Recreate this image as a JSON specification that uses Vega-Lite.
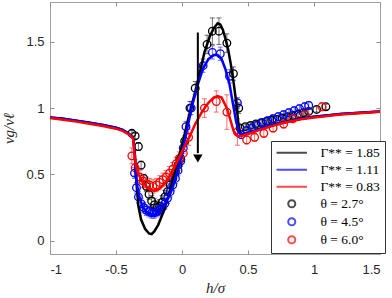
{
  "$schema": "https://vega.github.io/schema/vega-lite/v6.json",
  "width": 330,
  "height": 252,
  "autosize": {"type": "none"},
  "padding": {"left": 50, "top": 2, "right": 12, "bottom": 44},
  "background": "white",
  "config": {
    "view": {"stroke": "#a0a0a0", "strokeWidth": 1},
    "axis": {
      "grid": false,
      "domain": false,
      "tickColor": "#909090",
      "tickSize": -4,
      "labelFont": "Liberation Sans",
      "labelFontSize": 13,
      "labelColor": "#262626",
      "titleFont": "Liberation Serif",
      "titleFontStyle": "italic",
      "titleFontWeight": "normal",
      "titleFontSize": 15,
      "titleColor": "#262626"
    },
    "legend": {
      "labelFont": "Liberation Serif",
      "labelFontSize": 13.5,
      "labelColor": "#000000",
      "symbolStrokeWidth": 2,
      "symbolSize": 50,
      "padding": 5,
      "strokeColor": "#333333",
      "fillColor": "white",
      "symbolOffset": 9,
      "labelOffset": 22,
      "rowPadding": 2
    }
  },
  "datasets": {
    "lines": [
      {"s": "Γ** = 1.85", "x": -1, "y": 0.93}, {"s": "Γ** = 1.85", "x": -0.9, "y": 0.92}, {"s": "Γ** = 1.85", "x": -0.8, "y": 0.905}, {"s": "Γ** = 1.85", "x": -0.7, "y": 0.89}, {"s": "Γ** = 1.85", "x": -0.6, "y": 0.872}, {"s": "Γ** = 1.85", "x": -0.5, "y": 0.852}, {"s": "Γ** = 1.85", "x": -0.45, "y": 0.835}, {"s": "Γ** = 1.85", "x": -0.4, "y": 0.805}, {"s": "Γ** = 1.85", "x": -0.37, "y": 0.775}, {"s": "Γ** = 1.85", "x": -0.36, "y": 0.7}, {"s": "Γ** = 1.85", "x": -0.35, "y": 0.52}, {"s": "Γ** = 1.85", "x": -0.34, "y": 0.37}, {"s": "Γ** = 1.85", "x": -0.33, "y": 0.26}, {"s": "Γ** = 1.85", "x": -0.31, "y": 0.16}, {"s": "Γ** = 1.85", "x": -0.28, "y": 0.09}, {"s": "Γ** = 1.85", "x": -0.25, "y": 0.055}, {"s": "Γ** = 1.85", "x": -0.23, "y": 0.05}, {"s": "Γ** = 1.85", "x": -0.21, "y": 0.07}, {"s": "Γ** = 1.85", "x": -0.18, "y": 0.12}, {"s": "Γ** = 1.85", "x": -0.14, "y": 0.22}, {"s": "Γ** = 1.85", "x": -0.1, "y": 0.35}, {"s": "Γ** = 1.85", "x": -0.05, "y": 0.53}, {"s": "Γ** = 1.85", "x": 0.0, "y": 0.72}, {"s": "Γ** = 1.85", "x": 0.05, "y": 0.93}, {"s": "Γ** = 1.85", "x": 0.11, "y": 1.16}, {"s": "Γ** = 1.85", "x": 0.17, "y": 1.42}, {"s": "Γ** = 1.85", "x": 0.21, "y": 1.54}, {"s": "Γ** = 1.85", "x": 0.24, "y": 1.6}, {"s": "Γ** = 1.85", "x": 0.27, "y": 1.64}, {"s": "Γ** = 1.85", "x": 0.29, "y": 1.63}, {"s": "Γ** = 1.85", "x": 0.31, "y": 1.59}, {"s": "Γ** = 1.85", "x": 0.33, "y": 1.52}, {"s": "Γ** = 1.85", "x": 0.35, "y": 1.44}, {"s": "Γ** = 1.85", "x": 0.37, "y": 1.33}, {"s": "Γ** = 1.85", "x": 0.39, "y": 1.2}, {"s": "Γ** = 1.85", "x": 0.41, "y": 1.05}, {"s": "Γ** = 1.85", "x": 0.42, "y": 0.95}, {"s": "Γ** = 1.85", "x": 0.43, "y": 0.86}, {"s": "Γ** = 1.85", "x": 0.44, "y": 0.81}, {"s": "Γ** = 1.85", "x": 0.46, "y": 0.8}, {"s": "Γ** = 1.85", "x": 0.5, "y": 0.815}, {"s": "Γ** = 1.85", "x": 0.6, "y": 0.845}, {"s": "Γ** = 1.85", "x": 0.7, "y": 0.875}, {"s": "Γ** = 1.85", "x": 0.8, "y": 0.9}, {"s": "Γ** = 1.85", "x": 0.9, "y": 0.92}, {"s": "Γ** = 1.85", "x": 1.0, "y": 0.935}, {"s": "Γ** = 1.85", "x": 1.1, "y": 0.945}, {"s": "Γ** = 1.85", "x": 1.2, "y": 0.955}, {"s": "Γ** = 1.85", "x": 1.35, "y": 0.965}, {"s": "Γ** = 1.85", "x": 1.5, "y": 0.975},
      {"s": "Γ** = 1.11", "x": -1, "y": 0.93}, {"s": "Γ** = 1.11", "x": -0.9, "y": 0.92}, {"s": "Γ** = 1.11", "x": -0.8, "y": 0.905}, {"s": "Γ** = 1.11", "x": -0.7, "y": 0.89}, {"s": "Γ** = 1.11", "x": -0.6, "y": 0.872}, {"s": "Γ** = 1.11", "x": -0.5, "y": 0.852}, {"s": "Γ** = 1.11", "x": -0.45, "y": 0.835}, {"s": "Γ** = 1.11", "x": -0.4, "y": 0.805}, {"s": "Γ** = 1.11", "x": -0.37, "y": 0.775}, {"s": "Γ** = 1.11", "x": -0.36, "y": 0.68}, {"s": "Γ** = 1.11", "x": -0.35, "y": 0.52}, {"s": "Γ** = 1.11", "x": -0.34, "y": 0.42}, {"s": "Γ** = 1.11", "x": -0.32, "y": 0.32}, {"s": "Γ** = 1.11", "x": -0.3, "y": 0.26}, {"s": "Γ** = 1.11", "x": -0.27, "y": 0.22}, {"s": "Γ** = 1.11", "x": -0.24, "y": 0.2}, {"s": "Γ** = 1.11", "x": -0.21, "y": 0.195}, {"s": "Γ** = 1.11", "x": -0.18, "y": 0.21}, {"s": "Γ** = 1.11", "x": -0.15, "y": 0.24}, {"s": "Γ** = 1.11", "x": -0.12, "y": 0.29}, {"s": "Γ** = 1.11", "x": -0.08, "y": 0.38}, {"s": "Γ** = 1.11", "x": -0.04, "y": 0.5}, {"s": "Γ** = 1.11", "x": 0.0, "y": 0.65}, {"s": "Γ** = 1.11", "x": 0.04, "y": 0.85}, {"s": "Γ** = 1.11", "x": 0.08, "y": 1.03}, {"s": "Γ** = 1.11", "x": 0.12, "y": 1.18}, {"s": "Γ** = 1.11", "x": 0.16, "y": 1.3}, {"s": "Γ** = 1.11", "x": 0.2, "y": 1.37}, {"s": "Γ** = 1.11", "x": 0.24, "y": 1.4}, {"s": "Γ** = 1.11", "x": 0.27, "y": 1.4}, {"s": "Γ** = 1.11", "x": 0.3, "y": 1.37}, {"s": "Γ** = 1.11", "x": 0.33, "y": 1.29}, {"s": "Γ** = 1.11", "x": 0.36, "y": 1.18}, {"s": "Γ** = 1.11", "x": 0.39, "y": 1.01}, {"s": "Γ** = 1.11", "x": 0.41, "y": 0.9}, {"s": "Γ** = 1.11", "x": 0.43, "y": 0.82}, {"s": "Γ** = 1.11", "x": 0.45, "y": 0.8}, {"s": "Γ** = 1.11", "x": 0.5, "y": 0.815}, {"s": "Γ** = 1.11", "x": 0.6, "y": 0.845}, {"s": "Γ** = 1.11", "x": 0.7, "y": 0.875}, {"s": "Γ** = 1.11", "x": 0.8, "y": 0.9}, {"s": "Γ** = 1.11", "x": 0.9, "y": 0.92}, {"s": "Γ** = 1.11", "x": 1.0, "y": 0.935}, {"s": "Γ** = 1.11", "x": 1.2, "y": 0.955}, {"s": "Γ** = 1.11", "x": 1.5, "y": 0.975},
      {"s": "Γ** = 0.83", "x": -1, "y": 0.925}, {"s": "Γ** = 0.83", "x": -0.9, "y": 0.912}, {"s": "Γ** = 0.83", "x": -0.8, "y": 0.898}, {"s": "Γ** = 0.83", "x": -0.7, "y": 0.882}, {"s": "Γ** = 0.83", "x": -0.6, "y": 0.865}, {"s": "Γ** = 0.83", "x": -0.5, "y": 0.845}, {"s": "Γ** = 0.83", "x": -0.45, "y": 0.828}, {"s": "Γ** = 0.83", "x": -0.4, "y": 0.8}, {"s": "Γ** = 0.83", "x": -0.37, "y": 0.77}, {"s": "Γ** = 0.83", "x": -0.36, "y": 0.65}, {"s": "Γ** = 0.83", "x": -0.35, "y": 0.57}, {"s": "Γ** = 0.83", "x": -0.33, "y": 0.5}, {"s": "Γ** = 0.83", "x": -0.3, "y": 0.45}, {"s": "Γ** = 0.83", "x": -0.27, "y": 0.41}, {"s": "Γ** = 0.83", "x": -0.24, "y": 0.385}, {"s": "Γ** = 0.83", "x": -0.21, "y": 0.375}, {"s": "Γ** = 0.83", "x": -0.18, "y": 0.385}, {"s": "Γ** = 0.83", "x": -0.15, "y": 0.41}, {"s": "Γ** = 0.83", "x": -0.11, "y": 0.46}, {"s": "Γ** = 0.83", "x": -0.07, "y": 0.53}, {"s": "Γ** = 0.83", "x": -0.03, "y": 0.61}, {"s": "Γ** = 0.83", "x": 0.02, "y": 0.71}, {"s": "Γ** = 0.83", "x": 0.06, "y": 0.79}, {"s": "Γ** = 0.83", "x": 0.1, "y": 0.88}, {"s": "Γ** = 0.83", "x": 0.15, "y": 0.97}, {"s": "Γ** = 0.83", "x": 0.2, "y": 1.04}, {"s": "Γ** = 0.83", "x": 0.24, "y": 1.08}, {"s": "Γ** = 0.83", "x": 0.27, "y": 1.09}, {"s": "Γ** = 0.83", "x": 0.3, "y": 1.08}, {"s": "Γ** = 0.83", "x": 0.34, "y": 1.0}, {"s": "Γ** = 0.83", "x": 0.37, "y": 0.9}, {"s": "Γ** = 0.83", "x": 0.39, "y": 0.83}, {"s": "Γ** = 0.83", "x": 0.42, "y": 0.79}, {"s": "Γ** = 0.83", "x": 0.45, "y": 0.79}, {"s": "Γ** = 0.83", "x": 0.5, "y": 0.805}, {"s": "Γ** = 0.83", "x": 0.6, "y": 0.84}, {"s": "Γ** = 0.83", "x": 0.7, "y": 0.87}, {"s": "Γ** = 0.83", "x": 0.8, "y": 0.895}, {"s": "Γ** = 0.83", "x": 0.9, "y": 0.915}, {"s": "Γ** = 0.83", "x": 1.0, "y": 0.93}, {"s": "Γ** = 0.83", "x": 1.2, "y": 0.952}, {"s": "Γ** = 0.83", "x": 1.5, "y": 0.972}
    ],
    "pts": [
      {"s": "θ = 2.7°", "x": -0.38, "y": 0.81, "lo": 0.79, "hi": 0.83}, {"s": "θ = 2.7°", "x": -0.355, "y": 0.79, "lo": 0.77, "hi": 0.81}, {"s": "θ = 2.7°", "x": -0.33, "y": 0.71, "lo": 0.68, "hi": 0.74}, {"s": "θ = 2.7°", "x": -0.31, "y": 0.57, "lo": 0.54, "hi": 0.6}, {"s": "θ = 2.7°", "x": -0.29, "y": 0.47, "lo": 0.44, "hi": 0.5}, {"s": "θ = 2.7°", "x": -0.27, "y": 0.41, "lo": 0.37, "hi": 0.45}, {"s": "θ = 2.7°", "x": -0.25, "y": 0.35, "lo": 0.31, "hi": 0.39}, {"s": "θ = 2.7°", "x": -0.23, "y": 0.3, "lo": 0.26, "hi": 0.34}, {"s": "θ = 2.7°", "x": -0.21, "y": 0.27, "lo": 0.22, "hi": 0.32}, {"s": "θ = 2.7°", "x": -0.19, "y": 0.25, "lo": 0.2, "hi": 0.3}, {"s": "θ = 2.7°", "x": -0.17, "y": 0.26, "lo": 0.21, "hi": 0.31}, {"s": "θ = 2.7°", "x": -0.15, "y": 0.29, "lo": 0.24, "hi": 0.34}, {"s": "θ = 2.7°", "x": -0.13, "y": 0.33, "lo": 0.28, "hi": 0.38}, {"s": "θ = 2.7°", "x": -0.11, "y": 0.37, "lo": 0.32, "hi": 0.42}, {"s": "θ = 2.7°", "x": -0.09, "y": 0.42, "lo": 0.37, "hi": 0.47}, {"s": "θ = 2.7°", "x": -0.07, "y": 0.47, "lo": 0.43, "hi": 0.51}, {"s": "θ = 2.7°", "x": -0.05, "y": 0.52, "lo": 0.48, "hi": 0.56}, {"s": "θ = 2.7°", "x": -0.03, "y": 0.57, "lo": 0.53, "hi": 0.61}, {"s": "θ = 2.7°", "x": -0.01, "y": 0.62, "lo": 0.58, "hi": 0.66}, {"s": "θ = 2.7°", "x": 0.02, "y": 0.75, "lo": 0.71, "hi": 0.79}, {"s": "θ = 2.7°", "x": 0.06, "y": 1.0, "lo": 0.95, "hi": 1.05}, {"s": "θ = 2.7°", "x": 0.1, "y": 1.15, "lo": 1.1, "hi": 1.2}, {"s": "θ = 2.7°", "x": 0.19, "y": 1.48, "lo": 1.41, "hi": 1.55}, {"s": "θ = 2.7°", "x": 0.23, "y": 1.58, "lo": 1.48, "hi": 1.68}, {"s": "θ = 2.7°", "x": 0.28, "y": 1.58, "lo": 1.48, "hi": 1.68}, {"s": "θ = 2.7°", "x": 0.34, "y": 1.49, "lo": 1.42, "hi": 1.56}, {"s": "θ = 2.7°", "x": 0.39, "y": 1.26, "lo": 1.21, "hi": 1.31}, {"s": "θ = 2.7°", "x": 0.43, "y": 1.0, "lo": 0.96, "hi": 1.04}, {"s": "θ = 2.7°", "x": 0.44, "y": 0.85, "lo": 0.83, "hi": 0.87}, {"s": "θ = 2.7°", "x": 0.48, "y": 0.86, "lo": 0.84, "hi": 0.88}, {"s": "θ = 2.7°", "x": 0.52, "y": 0.87, "lo": 0.85, "hi": 0.89}, {"s": "θ = 2.7°", "x": 0.56, "y": 0.88, "lo": 0.86, "hi": 0.9}, {"s": "θ = 2.7°", "x": 0.6, "y": 0.89, "lo": 0.87, "hi": 0.91}, {"s": "θ = 2.7°", "x": 0.64, "y": 0.9, "lo": 0.88, "hi": 0.92}, {"s": "θ = 2.7°", "x": 0.68, "y": 0.91, "lo": 0.89, "hi": 0.93}, {"s": "θ = 2.7°", "x": 0.72, "y": 0.915, "lo": 0.895, "hi": 0.935}, {"s": "θ = 2.7°", "x": 0.76, "y": 0.925, "lo": 0.905, "hi": 0.945}, {"s": "θ = 2.7°", "x": 0.8, "y": 0.935, "lo": 0.915, "hi": 0.955}, {"s": "θ = 2.7°", "x": 0.84, "y": 0.945, "lo": 0.925, "hi": 0.965}, {"s": "θ = 2.7°", "x": 0.88, "y": 0.955, "lo": 0.935, "hi": 0.975}, {"s": "θ = 2.7°", "x": 0.92, "y": 0.965, "lo": 0.945, "hi": 0.985}, {"s": "θ = 2.7°", "x": 0.96, "y": 0.975, "lo": 0.955, "hi": 0.995}, {"s": "θ = 2.7°", "x": 1.02, "y": 0.99, "lo": 0.97, "hi": 1.01}, {"s": "θ = 2.7°", "x": 1.09, "y": 1.01, "lo": 0.99, "hi": 1.03},
      {"s": "θ = 4.5°", "x": -0.36, "y": 0.51, "lo": 0.47, "hi": 0.55}, {"s": "θ = 4.5°", "x": -0.345, "y": 0.4, "lo": 0.36, "hi": 0.44}, {"s": "θ = 4.5°", "x": -0.33, "y": 0.33, "lo": 0.29, "hi": 0.37}, {"s": "θ = 4.5°", "x": -0.31, "y": 0.28, "lo": 0.24, "hi": 0.32}, {"s": "θ = 4.5°", "x": -0.29, "y": 0.25, "lo": 0.21, "hi": 0.29}, {"s": "θ = 4.5°", "x": -0.27, "y": 0.23, "lo": 0.19, "hi": 0.27}, {"s": "θ = 4.5°", "x": -0.25, "y": 0.22, "lo": 0.18, "hi": 0.26}, {"s": "θ = 4.5°", "x": -0.23, "y": 0.21, "lo": 0.17, "hi": 0.25}, {"s": "θ = 4.5°", "x": -0.21, "y": 0.21, "lo": 0.17, "hi": 0.25}, {"s": "θ = 4.5°", "x": -0.19, "y": 0.22, "lo": 0.18, "hi": 0.26}, {"s": "θ = 4.5°", "x": -0.17, "y": 0.23, "lo": 0.19, "hi": 0.27}, {"s": "θ = 4.5°", "x": -0.15, "y": 0.25, "lo": 0.21, "hi": 0.29}, {"s": "θ = 4.5°", "x": -0.13, "y": 0.28, "lo": 0.24, "hi": 0.32}, {"s": "θ = 4.5°", "x": -0.11, "y": 0.32, "lo": 0.28, "hi": 0.36}, {"s": "θ = 4.5°", "x": -0.09, "y": 0.37, "lo": 0.33, "hi": 0.41}, {"s": "θ = 4.5°", "x": -0.07, "y": 0.42, "lo": 0.38, "hi": 0.46}, {"s": "θ = 4.5°", "x": -0.05, "y": 0.47, "lo": 0.43, "hi": 0.51}, {"s": "θ = 4.5°", "x": -0.03, "y": 0.53, "lo": 0.49, "hi": 0.57}, {"s": "θ = 4.5°", "x": -0.01, "y": 0.6, "lo": 0.56, "hi": 0.64}, {"s": "θ = 4.5°", "x": 0.01, "y": 0.7, "lo": 0.66, "hi": 0.74}, {"s": "θ = 4.5°", "x": 0.03, "y": 0.86, "lo": 0.82, "hi": 0.9}, {"s": "θ = 4.5°", "x": 0.07, "y": 1.0, "lo": 0.95, "hi": 1.05}, {"s": "θ = 4.5°", "x": 0.16, "y": 1.32, "lo": 1.27, "hi": 1.37}, {"s": "θ = 4.5°", "x": 0.23, "y": 1.42, "lo": 1.37, "hi": 1.47}, {"s": "θ = 4.5°", "x": 0.29, "y": 1.41, "lo": 1.36, "hi": 1.46}, {"s": "θ = 4.5°", "x": 0.36, "y": 1.24, "lo": 1.19, "hi": 1.29}, {"s": "θ = 4.5°", "x": 0.42, "y": 1.04, "lo": 1.0, "hi": 1.08}, {"s": "θ = 4.5°", "x": 0.45, "y": 0.8, "lo": 0.77, "hi": 0.83}, {"s": "θ = 4.5°", "x": 0.49, "y": 0.83, "lo": 0.8, "hi": 0.86}, {"s": "θ = 4.5°", "x": 0.53, "y": 0.85, "lo": 0.82, "hi": 0.88}, {"s": "θ = 4.5°", "x": 0.57, "y": 0.87, "lo": 0.84, "hi": 0.9}, {"s": "θ = 4.5°", "x": 0.61, "y": 0.89, "lo": 0.86, "hi": 0.92}, {"s": "θ = 4.5°", "x": 0.65, "y": 0.905, "lo": 0.875, "hi": 0.935}, {"s": "θ = 4.5°", "x": 0.69, "y": 0.92, "lo": 0.89, "hi": 0.95}, {"s": "θ = 4.5°", "x": 0.73, "y": 0.935, "lo": 0.905, "hi": 0.965}, {"s": "θ = 4.5°", "x": 0.77, "y": 0.95, "lo": 0.92, "hi": 0.98}, {"s": "θ = 4.5°", "x": 0.81, "y": 0.965, "lo": 0.935, "hi": 0.995}, {"s": "θ = 4.5°", "x": 0.85, "y": 0.98, "lo": 0.95, "hi": 1.01}, {"s": "θ = 4.5°", "x": 0.89, "y": 0.995, "lo": 0.965, "hi": 1.025}, {"s": "θ = 4.5°", "x": 0.93, "y": 1.01, "lo": 0.98, "hi": 1.04}, {"s": "θ = 4.5°", "x": 0.96, "y": 1.02, "lo": 0.99, "hi": 1.05},
      {"s": "θ = 6.0°", "x": -0.38, "y": 0.64, "lo": 0.58, "hi": 0.7}, {"s": "θ = 6.0°", "x": -0.355, "y": 0.55, "lo": 0.49, "hi": 0.61}, {"s": "θ = 6.0°", "x": -0.32, "y": 0.48, "lo": 0.43, "hi": 0.53}, {"s": "θ = 6.0°", "x": -0.295, "y": 0.45, "lo": 0.4, "hi": 0.5}, {"s": "θ = 6.0°", "x": -0.27, "y": 0.43, "lo": 0.38, "hi": 0.48}, {"s": "θ = 6.0°", "x": -0.245, "y": 0.42, "lo": 0.37, "hi": 0.47}, {"s": "θ = 6.0°", "x": -0.22, "y": 0.41, "lo": 0.36, "hi": 0.46}, {"s": "θ = 6.0°", "x": -0.195, "y": 0.42, "lo": 0.37, "hi": 0.47}, {"s": "θ = 6.0°", "x": -0.17, "y": 0.44, "lo": 0.39, "hi": 0.49}, {"s": "θ = 6.0°", "x": -0.145, "y": 0.46, "lo": 0.41, "hi": 0.51}, {"s": "θ = 6.0°", "x": -0.12, "y": 0.48, "lo": 0.43, "hi": 0.53}, {"s": "θ = 6.0°", "x": -0.095, "y": 0.51, "lo": 0.46, "hi": 0.56}, {"s": "θ = 6.0°", "x": -0.07, "y": 0.54, "lo": 0.49, "hi": 0.59}, {"s": "θ = 6.0°", "x": -0.045, "y": 0.58, "lo": 0.53, "hi": 0.63}, {"s": "θ = 6.0°", "x": -0.02, "y": 0.62, "lo": 0.57, "hi": 0.67}, {"s": "θ = 6.0°", "x": 0.01, "y": 0.66, "lo": 0.61, "hi": 0.71}, {"s": "θ = 6.0°", "x": 0.05, "y": 0.78, "lo": 0.72, "hi": 0.84}, {"s": "θ = 6.0°", "x": 0.17, "y": 1.0, "lo": 0.93, "hi": 1.07}, {"s": "θ = 6.0°", "x": 0.26, "y": 1.05, "lo": 0.97, "hi": 1.13}, {"s": "θ = 6.0°", "x": 0.34, "y": 0.97, "lo": 0.84, "hi": 1.1}, {"s": "θ = 6.0°", "x": 0.42, "y": 0.82, "lo": 0.72, "hi": 0.92}, {"s": "θ = 6.0°", "x": 0.49, "y": 0.76, "lo": 0.73, "hi": 0.79}, {"s": "θ = 6.0°", "x": 0.55, "y": 0.78, "lo": 0.75, "hi": 0.81}, {"s": "θ = 6.0°", "x": 0.62, "y": 0.81, "lo": 0.78, "hi": 0.84}, {"s": "θ = 6.0°", "x": 0.69, "y": 0.85, "lo": 0.82, "hi": 0.88}, {"s": "θ = 6.0°", "x": 0.77, "y": 0.88, "lo": 0.85, "hi": 0.91}, {"s": "θ = 6.0°", "x": 0.84, "y": 0.92, "lo": 0.89, "hi": 0.95}, {"s": "θ = 6.0°", "x": 0.93, "y": 0.95, "lo": 0.92, "hi": 0.98}, {"s": "θ = 6.0°", "x": 1.06, "y": 1.01, "lo": 0.98, "hi": 1.04}
    ],
    "arrow": [{"x": 0.12, "y": 1.57, "y2": 0.66, "tip": 0.62}]
  },
  "resolve": {"axis": {"x": "independent", "y": "independent"}},
  "layer": [
    {
      "layer": [
        {
          "data": {"name": "pts"},
          "mark": {"type": "rule", "strokeWidth": 0.8, "opacity": 0.7},
          "encoding": {
            "x": {"field": "x", "type": "quantitative"},
            "y": {"field": "lo", "type": "quantitative"},
            "y2": {"field": "hi"},
            "color": {"field": "s", "type": "nominal"}
          }
        },
        {
          "data": {"name": "pts"},
          "mark": {"type": "rule", "strokeWidth": 0.8, "opacity": 0.7, "xOffset": -2.5, "x2Offset": 2.5},
          "encoding": {
            "x": {"field": "x", "type": "quantitative"},
            "x2": {"field": "x"},
            "y": {"field": "lo", "type": "quantitative"},
            "color": {"field": "s", "type": "nominal"}
          }
        },
        {
          "data": {"name": "pts"},
          "mark": {"type": "rule", "strokeWidth": 0.8, "opacity": 0.7, "xOffset": -2.5, "x2Offset": 2.5},
          "encoding": {
            "x": {"field": "x", "type": "quantitative"},
            "x2": {"field": "x"},
            "y": {"field": "hi", "type": "quantitative"},
            "color": {"field": "s", "type": "nominal"}
          }
        },
        {
          "data": {"name": "pts"},
          "mark": {"type": "point", "filled": false, "size": 58, "strokeWidth": 1.3, "opacity": 1},
          "encoding": {
            "x": {"field": "x", "type": "quantitative"},
            "y": {"field": "y", "type": "quantitative"},
            "color": {"field": "s", "type": "nominal"},
            "shape": {
              "field": "s", "type": "nominal",
              "scale": {
                "domain": ["Γ** = 1.85", "Γ** = 1.11", "Γ** = 0.83", "θ = 2.7°", "θ = 4.5°", "θ = 6.0°"],
                "range": ["M-4.3,0H4.3", "M-4.3,0H4.3", "M-4.3,0H4.3", "circle", "circle", "circle"]
              },
              "legend": {"orient": "none", "legendX": 221, "legendY": 139, "title": null}
            }
          }
        },
        {
          "data": {"name": "lines"},
          "mark": {"type": "line", "strokeWidth": 2.5},
          "encoding": {
            "x": {
              "field": "x", "type": "quantitative",
              "scale": {"domain": [-1, 1.5], "nice": false, "zero": false},
              "axis": {"values": [-1, -0.5, 0, 0.5, 1, 1.5], "labelExpr": "'' + datum.value", "title": "h/σ", "labelPadding": 13, "titlePadding": 4}
            },
            "y": {
              "field": "y", "type": "quantitative",
              "scale": {"domain": [-0.1, 1.8], "nice": false, "zero": false},
              "axis": {"values": [0, 0.5, 1, 1.5], "labelExpr": "'' + datum.value", "title": "vg/vℓ", "labelPadding": 10, "titlePadding": 9}
            },
            "color": {
              "field": "s", "type": "nominal",
              "scale": {
                "domain": ["Γ** = 1.85", "Γ** = 1.11", "Γ** = 0.83", "θ = 2.7°", "θ = 4.5°", "θ = 6.0°"],
                "range": ["#000000", "#0000ff", "#ff0000", "#000000", "#0000ff", "#ff0000"]
              },
              "legend": {"orient": "none", "legendX": 221, "legendY": 139, "title": null}
            }
          }
        },
        {
          "data": {"name": "arrow"},
          "mark": {"type": "rule", "color": "#000", "strokeWidth": 2},
          "encoding": {
            "x": {"field": "x", "type": "quantitative"},
            "y": {"field": "y", "type": "quantitative"},
            "y2": {"field": "y2"}
          }
        },
        {
          "data": {"name": "arrow"},
          "mark": {"type": "point", "shape": "triangle-down", "filled": true, "color": "#000", "size": 90, "opacity": 1},
          "encoding": {
            "x": {"field": "x", "type": "quantitative"},
            "y": {"field": "tip", "type": "quantitative"}
          }
        }
      ]
    },
    {
      "data": {"name": "arrow"},
      "mark": {"type": "point", "opacity": 0},
      "encoding": {
        "x": {"field": "x", "type": "quantitative", "axis": {"orient": "top", "values": [-1, -0.5, 0, 0.5, 1, 1.5], "labels": false, "title": null}},
        "y": {"field": "tip", "type": "quantitative", "axis": {"orient": "right", "values": [0, 0.5, 1, 1.5], "labels": false, "title": null}}
      }
    }
  ]
}
